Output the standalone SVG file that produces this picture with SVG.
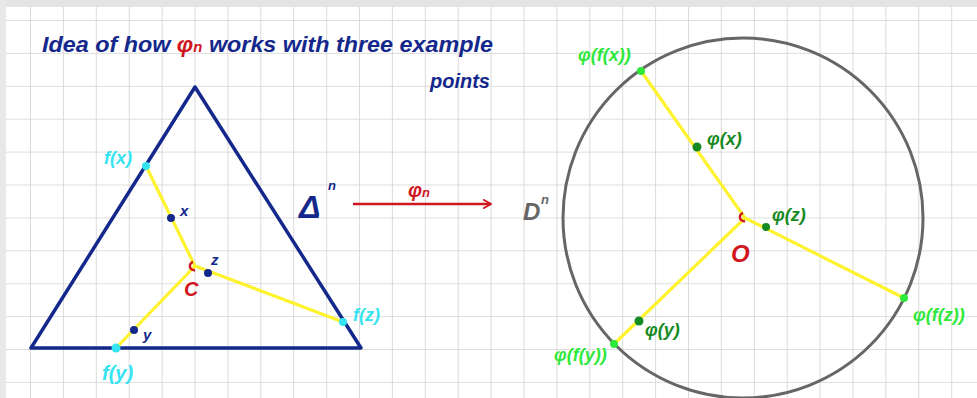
<svg xmlns="http://www.w3.org/2000/svg" width="977" height="398" viewBox="0 0 977 398">
<defs>
<pattern id="grid" patternUnits="userSpaceOnUse" x="30" y="20" width="32.9" height="32.9">
<path d="M0 0V32.9M0 0H32.9" fill="none" stroke="#d3d3d3" stroke-width="1.6"/>
</pattern>
<marker id="arr" viewBox="0 0 10 10" refX="8" refY="5" markerWidth="10" markerHeight="10" markerUnits="userSpaceOnUse" orient="auto">
<path d="M1 1L8 5L1 9" fill="none" stroke="#d0161e" stroke-width="2" stroke-linecap="round" stroke-linejoin="round"/>
</marker>
<style>
text{font-family:"Liberation Sans","DejaVu Sans",sans-serif;font-style:italic;font-weight:bold}
.blue{fill:#14288c}
.cyan{fill:#35e4f0}
.lg{fill:#2ee83a}
.dg{fill:#168a22}
.red{fill:#d0161e}
.gray{fill:#666}
.yl{stroke:#fff22e;stroke-width:3.2;fill:none;stroke-linecap:round}
</style>
</defs>
<rect width="977" height="398" fill="#fff"/>
<rect width="977" height="398" fill="url(#grid)"/>
<rect width="977" height="7" fill="#e4e4e4"/>
<rect width="6" height="398" fill="#e8e8e8"/>

<g id="title">
<text x="42" y="52" font-size="22" class="blue" textLength="451" lengthAdjust="spacingAndGlyphs">Idea of how <tspan class="red">φ<tspan font-size="14">n</tspan></tspan> works with three example</text>
<text x="490" y="88" font-size="20" class="blue" text-anchor="end">points</text>
</g>

<g id="connectors">
<polyline class="yl" points="146,166 195,266 116,348"/>
<polyline class="yl" points="195,266 343,322"/>
<polyline class="yl" points="641,71 745,218 614,344"/>
<polyline class="yl" points="745,218 904,298"/>
<line x1="353" y1="204" x2="491" y2="204" stroke="#d0161e" stroke-width="2.5" marker-end="url(#arr)"/>
</g>

<g id="simplex">
<polygon points="195,87 31,348 361,348" fill="none" stroke="#14288c" stroke-width="3.5" stroke-linejoin="round"/>
</g>

<g id="disk">
<circle cx="743" cy="218" r="180" fill="none" stroke="#666" stroke-width="3"/>
</g>

<g id="center-C">
<path d="M193 262a4 4 0 1 0 2 8" fill="none" stroke="#d0161e" stroke-width="2.5"/>
<text x="184" y="296" font-size="20" class="red">C</text>
</g>

<g id="center-O">
<path d="M743 213a4 4 0 0 0 2 8" fill="none" stroke="#d0161e" stroke-width="2.5"/>
<text x="731" y="262" font-size="24" class="red">O</text>
</g>

<g id="pt-x">
<circle cx="171" cy="218" r="4" class="blue"/>
<text x="180" y="216" font-size="15" class="blue">x</text>
</g>
<g id="pt-y">
<circle cx="134" cy="330" r="4" class="blue"/>
<text x="143" y="340" font-size="15" class="blue">y</text>
</g>
<g id="pt-z">
<circle cx="208" cy="273" r="4" class="blue"/>
<text x="211" y="265" font-size="15" class="blue">z</text>
</g>
<g id="pt-fx">
<circle cx="146" cy="166" r="4" class="cyan"/>
<text x="104" y="164" font-size="18" class="cyan">f(x)</text>
</g>
<g id="pt-fy">
<circle cx="116" cy="348" r="4.5" class="cyan"/>
<text x="102" y="380" font-size="20" class="cyan">f(y)</text>
</g>
<g id="pt-fz">
<circle cx="343" cy="322" r="4" class="cyan"/>
<text x="353" y="321" font-size="18" class="cyan">f(z)</text>
</g>

<g id="label-delta">
<text x="299" y="218" font-size="32" class="blue" font-style="normal">Δ</text>
<text x="328" y="190" font-size="13" class="blue">n</text>
</g>
<g id="label-phin">
<text x="408" y="197" font-size="20" class="red">φ<tspan font-size="13">n</tspan></text>
</g>
<g id="label-D">
<text x="523" y="220" font-size="24" class="gray" font-weight="normal">D</text>
<text x="541" y="204" font-size="13" class="gray">n</text>
</g>

<g id="pt-phifx">
<circle cx="641" cy="71" r="4" class="lg"/>
<text x="578" y="61" font-size="18" class="lg">φ(f(x))</text>
</g>
<g id="pt-phix">
<circle cx="697" cy="147" r="4.5" class="dg"/>
<text x="707" y="145" font-size="18" class="dg">φ(x)</text>
</g>
<g id="pt-phiz">
<circle cx="766" cy="227" r="4" class="dg"/>
<text x="772" y="221" font-size="18" class="dg">φ(z)</text>
</g>
<g id="pt-phiy">
<circle cx="639" cy="321" r="4.5" class="dg"/>
<text x="645" y="336" font-size="18" class="dg">φ(y)</text>
</g>
<g id="pt-phify">
<circle cx="614" cy="344" r="4" class="lg"/>
<text x="554" y="361" font-size="18" class="lg">φ(f(y))</text>
</g>
<g id="pt-phifz">
<circle cx="904" cy="298" r="4" class="lg"/>
<text x="913" y="321" font-size="18" class="lg">φ(f(z))</text>
</g>
</svg>
